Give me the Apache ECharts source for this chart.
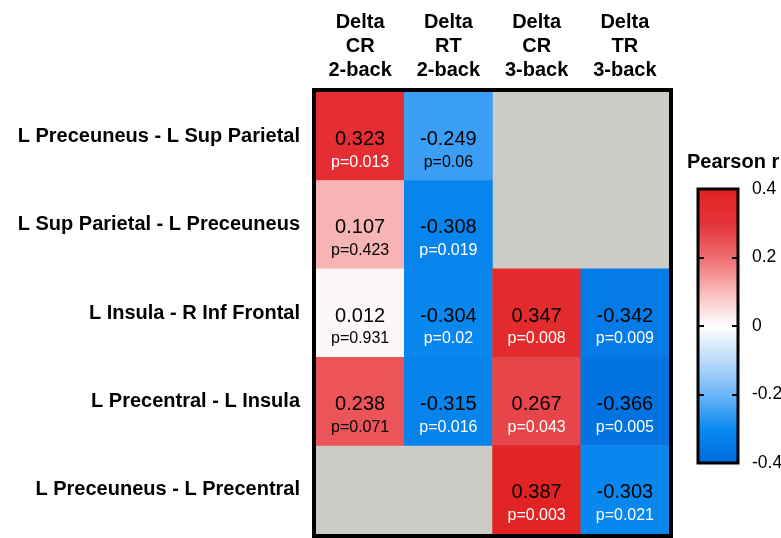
<!DOCTYPE html>
<html>
<head>
<meta charset="utf-8">
<style>
  html, body { margin: 0; padding: 0; background: #fff; }
  #chart { width: 781px; height: 538px; }
</style>
<script src="https://cdn.jsdelivr.net/npm/echarts@6/dist/echarts.min.js"></script>
</head>
<body>
<div id="chart"></div>
<script>
// Functional connections (rows) and behavioural change measures (columns)
const connections = [
  'L Preceuneus - L Sup Parietal',
  'L Sup Parietal - L Preceuneus',
  'L Insula - R Inf Frontal',
  'L Precentral - L Insula',
  'L Preceuneus - L Precentral'
];
const measures = [
  'Delta\nCR\n2-back',
  'Delta\nRT\n2-back',
  'Delta\nCR\n3-back',
  'Delta\nTR\n3-back'
];

// Pearson r per column (null = not tested)
const rCR2 = [0.323, 0.107, 0.012, 0.238, null];
const rRT2 = [-0.249, -0.308, -0.304, -0.315, null];
const rCR3 = [null, null, 0.347, 0.267, 0.387];
const rTR3 = [null, null, -0.342, -0.366, -0.303];

// p-values per column
const pCR2 = ['0.013', '0.423', '0.931', '0.071', null];
const pRT2 = ['0.06', '0.019', '0.02', '0.016', null];
const pCR3 = [null, null, '0.008', '0.043', '0.003'];
const pTR3 = [null, null, '0.009', '0.005', '0.021'];

// Colour bar ticks and the diverging palette (low -> high)
const scaleTicks = [-0.4, -0.2, 0, 0.2, 0.4];
const palette = ['#0068dc', '#0888ef', '#6bb6f8', '#b9dbfb', '#ffffff',
                 '#f9b9b9', '#ee6b6e', '#e5323a', '#e0221f'];

const rColumns = [rCR2, rRT2, rCR3, rTR3];
const pColumns = [pCR2, pRT2, pCR3, pTR3];

const cells = [];
rColumns.forEach((col, ci) => {
  col.forEach((r, ri) => {
    if (r !== null) cells.push([ci, ri, r, pColumns[ci][ri]]);
  });
});

const FONT = "'Liberation Sans', Arial, Helvetica, sans-serif";
const rMin = scaleTicks[0];
const rMax = scaleTicks[scaleTicks.length - 1];

// vertical gradient for the colour bar, bottom = rMin, top = rMax
const barFill = new echarts.graphic.LinearGradient(0, 1, 0, 0,
  palette.map((c, i) => ({ offset: i / (palette.length - 1), color: c })));

const chart = echarts.init(document.getElementById('chart'));

chart.setOption({
  animation: false,
  backgroundColor: '#fff',
  textStyle: { fontFamily: FONT },
  title: {
    text: 'Pearson r',
    left: 687,
    top: 152,
    padding: 0,
    textStyle: { fontFamily: FONT, fontSize: 20, fontWeight: 'bold', color: '#000' }
  },
  grid: [
    // matrix area, grey where a pair was not tested
    {
      left: 316, top: 92, width: 353, height: 442, outerBoundsMode: 'none',
      show: true, backgroundColor: '#cdcbc6', borderWidth: 0
    },
    // colour bar
    {
      left: 698, top: 189, width: 40, height: 274, outerBoundsMode: 'none',
      show: true, backgroundColor: barFill, borderColor: '#000', borderWidth: 3
    },
    // heavy frame around the matrix, drawn above the cells
    {
      left: 314, top: 90, width: 357, height: 446, outerBoundsMode: 'none',
      show: true, backgroundColor: 'transparent', borderColor: '#000', borderWidth: 4, z: 10
    }
  ],
  xAxis: [
    {
      gridIndex: 0, type: 'category', data: measures, position: 'top',
      axisLine: { show: false }, axisTick: { show: false }, splitLine: { show: false },
      axisLabel: {
        fontFamily: FONT, fontSize: 20, fontWeight: 'bold', color: '#000',
        lineHeight: 24, margin: 10, interval: 0
      }
    },
    { gridIndex: 1, type: 'value', min: 0, max: 1, show: false },
    { gridIndex: 2, type: 'value', min: 0, max: 1, show: false }
  ],
  yAxis: [
    {
      gridIndex: 0, type: 'category', data: connections, inverse: true,
      axisLine: { show: false }, axisTick: { show: false }, splitLine: { show: false },
      axisLabel: {
        fontFamily: FONT, fontSize: 20, fontWeight: 'bold', color: '#000',
        margin: 16, interval: 0
      }
    },
    {
      gridIndex: 1, type: 'value', min: rMin, max: rMax,
      interval: 0.2, position: 'left', z: 11,
      axisLine: { show: false }, splitLine: { show: false },
      axisTick: { show: true, inside: true, length: 6, lineStyle: { color: '#000', width: 2 } },
      axisLabel: { show: false }
    },
    {
      gridIndex: 1, type: 'value', min: rMin, max: rMax,
      interval: 0.2, position: 'right', z: 11,
      axisLine: { show: false }, splitLine: { show: false },
      axisTick: { show: true, inside: true, length: 6, lineStyle: { color: '#000', width: 2 } },
      axisLabel: { fontFamily: FONT, fontSize: 17.5, color: '#000', margin: 14 }
    },
    { gridIndex: 2, type: 'value', min: 0, max: 1, show: false }
  ],
  visualMap: {
    type: 'continuous',
    show: false,
    seriesIndex: 0,
    dimension: 2,
    min: rMin,
    max: rMax,
    inRange: { color: palette }
  },
  series: [
    {
      type: 'heatmap',
      xAxisIndex: 0,
      yAxisIndex: 0,
      data: cells,
      itemStyle: { borderWidth: 0 },
      emphasis: { disabled: true },
      label: {
        show: true,
        offset: [0, 13],
        formatter: (p) => {
          const r = p.value[2].toFixed(3);
          const pv = p.value[3];
          const style = parseFloat(pv) < 0.05 ? 'pw' : 'pb';
          return '{v|' + r + '}\n{' + style + '|p=' + pv + '}';
        },
        rich: {
          v: { fontFamily: FONT, fontSize: 20, color: '#000', lineHeight: 26 },
          pb: { fontFamily: FONT, fontSize: 16, color: '#000', lineHeight: 20 },
          pw: { fontFamily: FONT, fontSize: 16, color: '#fff', lineHeight: 20 }
        }
      }
    }
  ]
});
</script>
</body>
</html>
